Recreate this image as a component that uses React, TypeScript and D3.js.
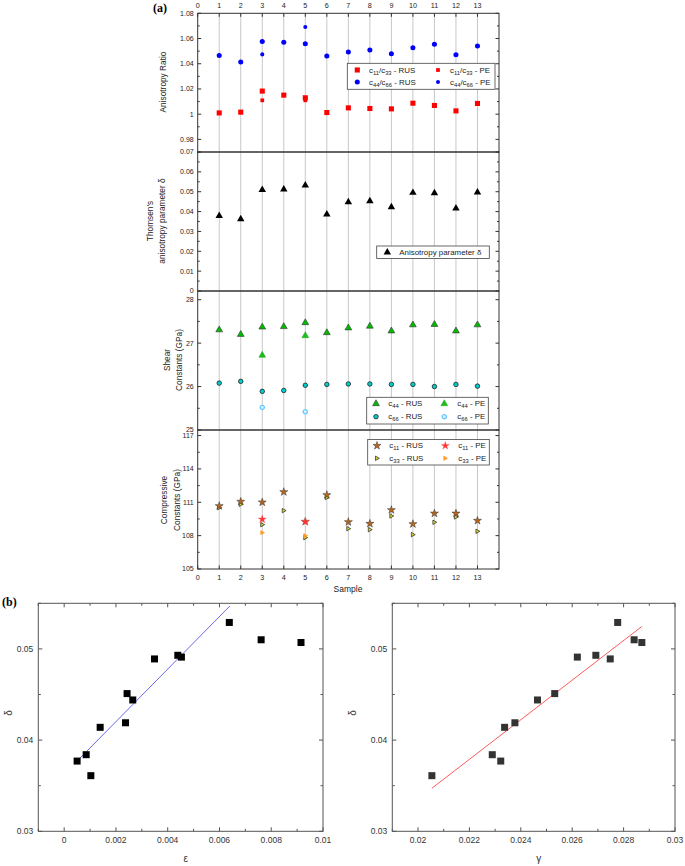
import React from "react";
import * as d3 from "d3";

// ---------- DATA ----------
const samples = [1, 2, 3, 4, 5, 6, 7, 8, 9, 10, 11, 12, 13];
const peSamples = [3, 5];
const sampleTicks = [0, 1, 2, 3, 4, 5, 6, 7, 8, 9, 10, 11, 12, 13];

const ratio1133RUS = [1.001, 1.0016, 1.0183, 1.0151, 1.013, 1.0013, 1.005, 1.0045, 1.0042, 1.0087, 1.0069, 1.0026, 1.0085];
const ratio1133PE = [1.011, 1.011];
const ratio4466RUS = [1.0466, 1.0413, 1.0577, 1.057, 1.0559, 1.0461, 1.0493, 1.0509, 1.0479, 1.0527, 1.0554, 1.0472, 1.054];
const ratio4466PE = [1.0474, 1.0691];

const deltaA = [0.0379, 0.0362, 0.051, 0.0512, 0.0532, 0.0386, 0.0448, 0.0453, 0.0423, 0.0495, 0.0493, 0.0416, 0.0497];

const c44RUS = [27.305, 27.2, 27.37, 27.38, 27.47, 27.24, 27.35, 27.39, 27.28, 27.42, 27.43, 27.28, 27.42];
const c44PE = [26.72, 27.17];
const c66RUS = [26.08, 26.12, 25.89, 25.91, 26.03, 26.05, 26.06, 26.06, 26.05, 26.05, 26.0, 26.05, 26.01];
const c66PE = [25.52, 25.42];

const c11RUS = [110.67, 111.06, 111.0, 111.93, 109.26, 111.66, 109.23, 109.08, 110.31, 109.05, 110.0, 110.0, 109.35];
const c11PE = [109.47, 109.25];
const c33RUS = [110.52, 110.82, 108.99, 110.25, 107.82, 111.42, 108.63, 108.54, 109.77, 108.09, 109.2, 109.68, 108.39];
const c33PE = [108.27, 108.0];

const epsilonB = [0.0005, 0.00103, 0.00915, 0.00761, 0.00638, 0.00085, 0.00265, 0.00243, 0.00237, 0.00453, 0.00349, 0.00139, 0.00439];
const gammaB = [0.02322, 0.02054, 0.02871, 0.02841, 0.02777, 0.02289, 0.02465, 0.02532, 0.02377, 0.0262, 0.02748, 0.02337, 0.02692];
const deltaB = [0.0377, 0.0361, 0.0507, 0.051, 0.0529, 0.0384, 0.0444, 0.0451, 0.0419, 0.0491, 0.0489, 0.0414, 0.0493];

const fitEpsX = [0.0005, 0.0064];
const fitEpsY = [0.0377, 0.0547];
const fitGamX = [0.02054, 0.02871];
const fitGamY = [0.03472, 0.05246];

const p1Ticks = [0.98, 1.0, 1.02, 1.04, 1.06, 1.08];
const p2Ticks = [0, 0.01, 0.02, 0.03, 0.04, 0.05, 0.06, 0.07];
const p3Ticks = [25, 26, 27, 28];
const p4Ticks = [105, 108, 111, 114, 117];
const epsTicks = [0, 0.002, 0.004, 0.006, 0.008, 0.01];
const gamTicks = [0.02, 0.022, 0.024, 0.026, 0.028, 0.03];
const deltaBTicks = [0.03, 0.04, 0.05];

// ---------- LAYOUT ----------
const FONT = "'Liberation Sans', Arial, sans-serif";
const AX_L = 197.7;
const AX_R = 499;
const xA = d3.scaleLinear().domain([0, 14]).range([AX_L, AX_R]);

const panels = [
  { y0: 13.3, y1: 152, dom: [0.97, 1.08], ticks: p1Ticks, minor: 0.01, fmt: (v: number) => (v === 1 ? "1" : d3.format(".2f")(v)) },
  { y0: 152, y1: 291, dom: [0, 0.07], ticks: p2Ticks, minor: 0.005, fmt: (v: number) => (v === 0 ? "0" : d3.format(".2f")(v)) },
  { y0: 291, y1: 430, dom: [25, 28.2], ticks: p3Ticks, minor: 0.5, fmt: (v: number) => String(v) },
  { y0: 430, y1: 569, dom: [105, 117.5], ticks: p4Ticks, minor: 1.5, fmt: (v: number) => String(v) },
];
const yScales = panels.map((p) => d3.scaleLinear().domain(p.dom).range([p.y1, p.y0]));

const sym = (type: d3.SymbolType, size: number) => d3.symbol().type(type).size(size)() as string;
const rightTri = (s: number) => `M${s * 0.9},0L${-s * 0.6},${s * 0.85}L${-s * 0.6},${-s * 0.85}Z`;

type MarkerSpec = { d: string; fill: string; stroke: string; sw: number };
const M = {
  r1133: { d: sym(d3.symbolSquare, 26), fill: "#ff0000", stroke: "none", sw: 0 },
  r1133pe: { d: sym(d3.symbolSquare, 14), fill: "#ff0000", stroke: "none", sw: 0 },
  r4466: { d: sym(d3.symbolCircle, 20), fill: "#0000ff", stroke: "none", sw: 0 },
  r4466pe: { d: sym(d3.symbolCircle, 13), fill: "#0000ff", stroke: "none", sw: 0 },
  delta: { d: sym(d3.symbolTriangle, 24), fill: "#000", stroke: "none", sw: 0 },
  c44: { d: sym(d3.symbolTriangle, 20), fill: "#00bb00", stroke: "#333", sw: 0.6 },
  c44pe: { d: sym(d3.symbolTriangle, 20), fill: "#22bb22", stroke: "#11aa11", sw: 0.5 },
  c66: { d: sym(d3.symbolCircle, 16), fill: "#00cccc", stroke: "#222", sw: 0.8 },
  c66pe: { d: sym(d3.symbolCircle, 14), fill: "#ddf3ff", stroke: "#66c8ff", sw: 1.3 },
  c11: { d: sym(d3.symbolStar, 20), fill: "#b8661c", stroke: "#333", sw: 0.5 },
  c11pe: { d: sym(d3.symbolStar, 20), fill: "#ff3030", stroke: "#ff6060", sw: 0.4 },
  c33: { d: rightTri(2.6), fill: "#d4d430", stroke: "#222", sw: 0.7 },
  c33pe: { d: rightTri(2.6), fill: "#ff9a20", stroke: "#ff9a20", sw: 0.5 },
};

const Marker = ({ m, x, y }: { m: MarkerSpec; x: number; y: number }) => (
  <path d={m.d} transform={`translate(${x},${y})`} fill={m.fill} stroke={m.stroke} strokeWidth={m.sw} />
);

const Sub = ({ t }: { t: string }) => (
  <tspan baselineShift="-30%" fontSize="5.8">{t}</tspan>
);

const range = (a: number, b: number, step: number) => {
  const out: number[] = [];
  for (let v = a; v <= b + 1e-9; v += step) out.push(+v.toFixed(6));
  return out;
};

const TITLE_FS = "8.3";

function PanelA() {
  const tickLen = 3.5;
  const minorLen = 2;
  return (
    <g fontFamily={FONT}>
      {/* vertical grid lines */}
      {samples.map((s) => (
        <line key={"g" + s} x1={xA(s)} x2={xA(s)} y1={panels[0].y0} y2={panels[3].y1} stroke="#c8c8c8" strokeWidth={1} />
      ))}
      {/* panels frames and ticks */}
      {panels.map((p, i) => {
        const ys = yScales[i];
        const minors = range(p.dom[0], p.dom[1], p.minor).filter((v) => !p.ticks.some((t) => Math.abs(t - v) < 1e-6));
        return (
          <g key={"p" + i}>
            <rect x={AX_L} y={p.y0} width={AX_R - AX_L} height={p.y1 - p.y0} fill="none" stroke="#333" strokeWidth={1} />
            {p.ticks.map((t) => (
              <g key={"t" + t}>
                <line x1={AX_L} x2={AX_L + tickLen} y1={ys(t)} y2={ys(t)} stroke="#333" />
                <line x1={AX_R} x2={AX_R - tickLen} y1={ys(t)} y2={ys(t)} stroke="#333" />
                <text x={AX_L - 4} y={ys(t)} dy="0.35em" textAnchor="end" fontSize="7" fill="#222">
                  {p.fmt(t)}
                </text>
              </g>
            ))}
            {minors.map((t) => (
              <g key={"m" + t}>
                <line x1={AX_L} x2={AX_L + minorLen} y1={ys(t)} y2={ys(t)} stroke="#333" />
                <line x1={AX_R} x2={AX_R - minorLen} y1={ys(t)} y2={ys(t)} stroke="#333" />
              </g>
            ))}
          </g>
        );
      })}
      {/* top and bottom x ticks */}
      {sampleTicks.map((s) => (
        <g key={"x" + s}>
          <line x1={xA(s)} x2={xA(s)} y1={panels[0].y0} y2={panels[0].y0 + tickLen} stroke="#333" />
          <line x1={xA(s)} x2={xA(s)} y1={panels[3].y1} y2={panels[3].y1 - tickLen} stroke="#333" />
          <text x={xA(s)} y={8} textAnchor="middle" fontSize="7.2" fill="#222">{s}</text>
          <text x={xA(s)} y={580} textAnchor="middle" fontSize="7.2" fill="#222">{s}</text>
        </g>
      ))}
      <text x={348} y={592} textAnchor="middle" fontSize="8.5" fill="#222">Sample</text>
      <text x={153} y={12} fontFamily="'Liberation Serif', 'Times New Roman', serif" fontWeight="bold" fontSize="12">(a)</text>

      {/* y axis titles */}
      <text transform="translate(163,82) rotate(-90)" textAnchor="middle" dy="0.35em" fontSize={TITLE_FS} fill="#222">Anisotropy Ratio</text>
      <text transform="translate(150,221) rotate(-90)" textAnchor="middle" dy="0.35em" fontSize={TITLE_FS} fill="#222">Thomsen's</text>
      <text transform="translate(162,221) rotate(-90)" textAnchor="middle" dy="0.35em" fontSize={TITLE_FS} fill="#222">anisotropy parameter δ</text>
      <text transform="translate(167,360) rotate(-90)" textAnchor="middle" dy="0.35em" fontSize={TITLE_FS} fill="#222">Shear</text>
      <text transform="translate(179,360) rotate(-90)" textAnchor="middle" dy="0.35em" fontSize={TITLE_FS} fill="#222">Constants (GPa)</text>
      <text transform="translate(164,500) rotate(-90)" textAnchor="middle" dy="0.35em" fontSize={TITLE_FS} fill="#222">Compressive</text>
      <text transform="translate(177,500) rotate(-90)" textAnchor="middle" dy="0.35em" fontSize={TITLE_FS} fill="#222">Constants (GPa)</text>

      {/* panel 1 data */}
      {samples.map((s, i) => <Marker key={"a" + s} m={M.r1133} x={xA(s)} y={yScales[0](ratio1133RUS[i])} />)}
      {peSamples.map((s, i) => <Marker key={"b" + s} m={M.r1133pe} x={xA(s)} y={yScales[0](ratio1133PE[i])} />)}
      {samples.map((s, i) => <Marker key={"c" + s} m={M.r4466} x={xA(s)} y={yScales[0](ratio4466RUS[i])} />)}
      {peSamples.map((s, i) => <Marker key={"d" + s} m={M.r4466pe} x={xA(s)} y={yScales[0](ratio4466PE[i])} />)}

      {/* panel 2 data */}
      {samples.map((s, i) => <Marker key={"e" + s} m={M.delta} x={xA(s)} y={yScales[1](deltaA[i])} />)}

      {/* panel 3 data */}
      {samples.map((s, i) => <Marker key={"f" + s} m={M.c44} x={xA(s)} y={yScales[2](c44RUS[i])} />)}
      {peSamples.map((s, i) => <Marker key={"g2" + s} m={M.c44pe} x={xA(s)} y={yScales[2](c44PE[i])} />)}
      {samples.map((s, i) => <Marker key={"h" + s} m={M.c66} x={xA(s)} y={yScales[2](c66RUS[i])} />)}
      {peSamples.map((s, i) => <Marker key={"i" + s} m={M.c66pe} x={xA(s)} y={yScales[2](c66PE[i])} />)}

      {/* panel 4 data */}
      {samples.map((s, i) => <Marker key={"j" + s} m={M.c33} x={xA(s)} y={yScales[3](c33RUS[i])} />)}
      {peSamples.map((s, i) => <Marker key={"k" + s} m={M.c33pe} x={xA(s)} y={yScales[3](c33PE[i])} />)}
      {samples.map((s, i) => <Marker key={"l" + s} m={M.c11} x={xA(s)} y={yScales[3](c11RUS[i])} />)}
      {peSamples.map((s, i) => <Marker key={"n" + s} m={M.c11pe} x={xA(s)} y={yScales[3](c11PE[i])} />)}

      {/* legends */}
      <g fontSize="7.9" fill="#222">
        <rect x={347.3} y={63.3} width={147.7} height={26} fill="#fff" stroke="#444" strokeWidth={0.8} />
        <Marker m={M.r1133} x={357.3} y={70} />
        <text x={369} y={70} dy="0.35em">c<Sub t="11" />/c<Sub t="33" /> - RUS</text>
        <Marker m={M.r1133pe} x={438} y={70} />
        <text x={450} y={70} dy="0.35em">c<Sub t="11" />/c<Sub t="33" /> - PE</text>
        <Marker m={M.r4466} x={357.3} y={82} />
        <text x={369} y={82} dy="0.35em">c<Sub t="44" />/c<Sub t="66" /> - RUS</text>
        <Marker m={M.r4466pe} x={438} y={82} />
        <text x={450} y={82} dy="0.35em">c<Sub t="44" />/c<Sub t="66" /> - PE</text>

        <rect x={376.7} y={246} width={112.6} height={12.5} fill="#fff" stroke="#444" strokeWidth={0.8} />
        <Marker m={M.delta} x={387.3} y={252.3} />
        <text x={399.3} y={252.3} dy="0.35em">Anisotropy parameter δ</text>

        <rect x={366.7} y={397.3} width={121.6} height={26.7} fill="#fff" stroke="#444" strokeWidth={0.8} />
        <Marker m={M.c44} x={376} y={403.7} />
        <text x={388.3} y={403.7} dy="0.35em">c<Sub t="44" /> - RUS</text>
        <Marker m={M.c44pe} x={444.3} y={403.7} />
        <text x={457.3} y={403.7} dy="0.35em">c<Sub t="44" /> - PE</text>
        <Marker m={M.c66} x={376} y={416.7} />
        <text x={388.3} y={416.7} dy="0.35em">c<Sub t="66" /> - RUS</text>
        <Marker m={M.c66pe} x={444.3} y={416.7} />
        <text x={457.3} y={416.7} dy="0.35em">c<Sub t="66" /> - PE</text>

        <rect x={367.7} y={439.5} width={121.6} height={25.5} fill="#fff" stroke="#444" strokeWidth={0.8} />
        <Marker m={M.c11} x={377} y={445.7} />
        <text x={389.3} y={445.7} dy="0.35em">c<Sub t="11" /> - RUS</text>
        <Marker m={M.c11pe} x={445.3} y={445.7} />
        <text x={458.3} y={445.7} dy="0.35em">c<Sub t="11" /> - PE</text>
        <Marker m={M.c33} x={377} y={458.3} />
        <text x={389.3} y={458.3} dy="0.35em">c<Sub t="33" /> - RUS</text>
        <Marker m={M.c33pe} x={445.3} y={458.3} />
        <text x={458.3} y={458.3} dy="0.35em">c<Sub t="33" /> - PE</text>
      </g>
    </g>
  );
}

function Scatter({
  x0, x1, xDom, xTicks, xMinor, xFmt, xs, ys, fitX, fitY, lineColor, markFill, xTitle, yTitleX,
}: {
  x0: number; x1: number; xDom: number[]; xTicks: number[]; xMinor: number; xFmt: (v: number) => string;
  xs: number[]; ys: number[]; fitX: number[]; fitY: number[]; lineColor: string; markFill: string; xTitle: string; yTitleX: number;
}) {
  const Y0 = 603.3;
  const Y1 = 831.3;
  const sx = d3.scaleLinear().domain(xDom).range([x0, x1]);
  const sy = d3.scaleLinear().domain([0.03, 0.055]).range([Y1, Y0]);
  const xMinors = range(xDom[0], xDom[1], xMinor);
  const yMinors = range(0.03, 0.055, 0.005);
  const line = d3.line<number>().x((_, i) => sx(fitX[i])).y((d) => sy(d));
  return (
    <g fontFamily={FONT}>
      <rect x={x0} y={Y0} width={x1 - x0} height={Y1 - Y0} fill="none" stroke="#555" strokeWidth={1} />
      {xMinors.map((v) => {
        const major = xTicks.some((t) => Math.abs(t - v) < 1e-7);
        const L = major ? 4 : 2.5;
        return (
          <g key={"xm" + v}>
            <line x1={sx(v)} x2={sx(v)} y1={Y1} y2={Y1 - L} stroke="#555" />
            <line x1={sx(v)} x2={sx(v)} y1={Y0} y2={Y0 + L} stroke="#555" />
          </g>
        );
      })}
      {yMinors.map((v) => {
        const major = deltaBTicks.some((t) => Math.abs(t - v) < 1e-7);
        const L = major ? 4 : 2.5;
        return (
          <g key={"ym" + v}>
            <line x1={x0} x2={x0 + L} y1={sy(v)} y2={sy(v)} stroke="#555" />
            <line x1={x1} x2={x1 - L} y1={sy(v)} y2={sy(v)} stroke="#555" />
          </g>
        );
      })}
      {xTicks.map((t) => (
        <text key={"xl" + t} x={sx(t)} y={843} textAnchor="middle" fontSize="8.5" fill="#333">{xFmt(t)}</text>
      ))}
      {deltaBTicks.map((t) => (
        <text key={"yl" + t} x={x0 - 5} y={sy(t)} dy="0.35em" textAnchor="end" fontSize="8.5" fill="#333">{d3.format(".2f")(t)}</text>
      ))}
      <text x={(x0 + x1) / 2 + 5} y={862} textAnchor="middle" fontSize="10" fill="#333">{xTitle}</text>
      <text transform={`translate(${yTitleX},713) rotate(-90)`} textAnchor="middle" dy="0.35em" fontSize="10" fill="#333">δ</text>
      <path d={line(fitY) as string} fill="none" stroke={lineColor} strokeWidth={1} />
      {xs.map((v, i) => (
        <rect key={"pt" + i} x={sx(v) - 3.5} y={sy(ys[i]) - 3.5} width={7} height={7} fill={markFill} />
      ))}
    </g>
  );
}

export default function App() {
  return (
    <svg width={685} height={866} style={{ position: "absolute", left: 0, top: 0, background: "#fff" }}>
      <rect width={685} height={866} fill="#fff" />
      <PanelA />
      <text x={2} y={606} fontFamily="'Liberation Serif', 'Times New Roman', serif" fontWeight="bold" fontSize="12">(b)</text>
      <Scatter
        x0={38.3} x1={323} xDom={[-0.001, 0.01]} xTicks={epsTicks} xMinor={0.001}
        xFmt={(v) => (v === 0 ? "0" : v === 0.01 ? "0.01" : d3.format(".3f")(v))}
        xs={epsilonB} ys={deltaB} fitX={fitEpsX} fitY={fitEpsY} lineColor="#6a6af0" markFill="#000"
        xTitle="ε" yTitleX={8}
      />
      <Scatter
        x0={392.3} x1={675} xDom={[0.019, 0.03]} xTicks={gamTicks} xMinor={0.001}
        xFmt={(v) => (v === 0.02 ? "0.02" : v === 0.03 ? "0.03" : d3.format(".3f")(v))}
        xs={gammaB} ys={deltaB} fitX={fitGamX} fitY={fitGamY} lineColor="#ff5a5a" markFill="#333"
        xTitle="γ" yTitleX={352}
      />
    </svg>
  );
}
